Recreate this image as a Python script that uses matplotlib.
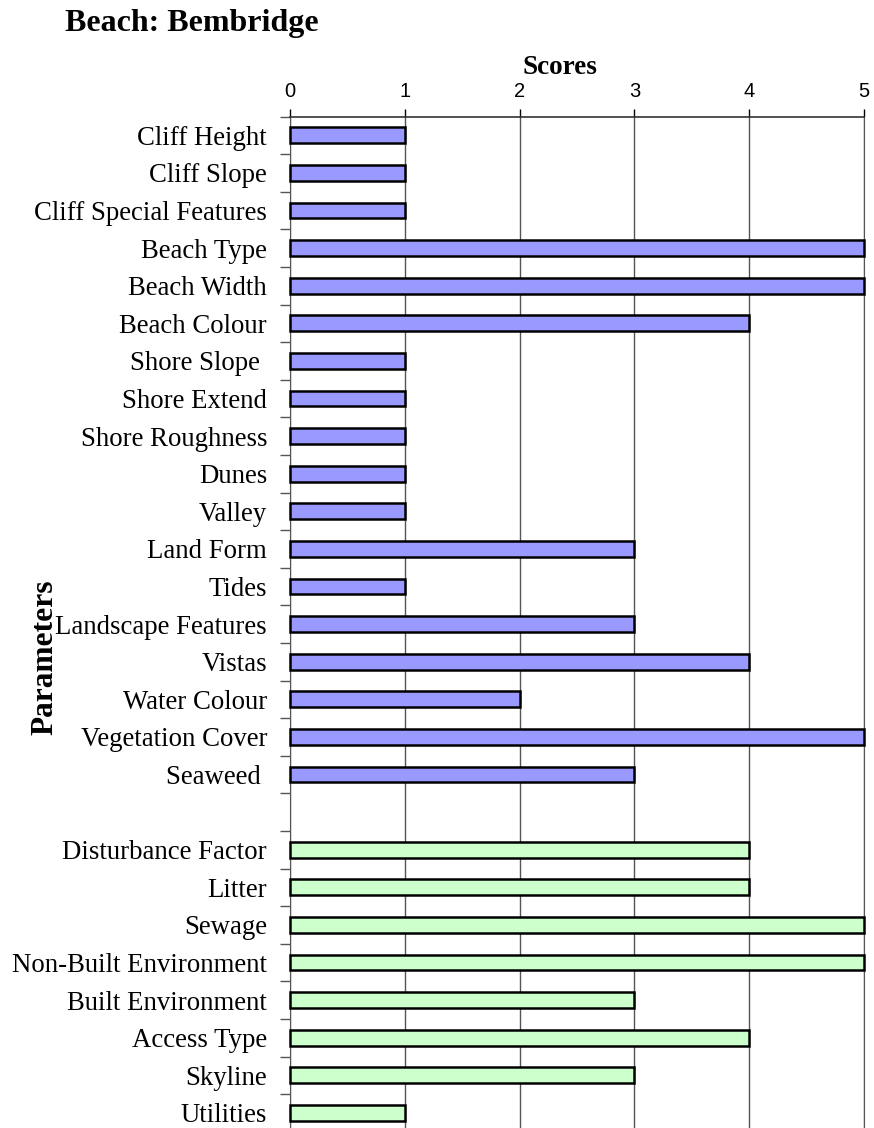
import numpy as np
import matplotlib.pyplot as plt
from matplotlib.ticker import FixedLocator

# physical parameters (upper block) and human parameters (lower block)
physical = ['Cliff Height', 'Cliff Slope', 'Cliff Special Features', 'Beach Type',
            'Beach Width', 'Beach Colour', 'Shore Slope ', 'Shore Extend',
            'Shore Roughness', 'Dunes', 'Valley', 'Land Form', 'Tides',
            'Landscape Features', 'Vistas', 'Water Colour', 'Vegetation Cover',
            'Seaweed ']
physical_scores = [1, 1, 1, 5, 5, 4, 1, 1, 1, 1, 1, 3, 1, 3, 4, 2, 5, 3]

human = ['Disturbance Factor', 'Litter', 'Sewage', 'Non-Built Environment',
         'Built Environment', 'Access Type', 'Skyline', 'Utilities']
human_scores = [4, 4, 5, 5, 3, 4, 3, 1]

serif = 'Liberation Serif'
sans = 'Liberation Sans'

labels = physical + [''] + human
n = len(labels)
y_phys = np.arange(len(physical))
y_human = np.arange(len(physical) + 1, n)

fig = plt.figure(figsize=(8.74, 11.28), dpi=100)
row_h = 37.6 / 1128
ax = fig.add_axes([290 / 874, 1 - 116.5 / 1128 - n * row_h, 574 / 874, n * row_h])

bh = 0.42
ax.barh(y_phys, physical_scores, height=bh, color='#9999FF', edgecolor='black',
        linewidth=1.8, zorder=3, clip_on=False)
ax.barh(y_human, human_scores, height=bh, color='#CCFFCC', edgecolor='black',
        linewidth=1.8, zorder=3, clip_on=False)

ax.set_xlim(0, 5)
ax.set_ylim(n - 0.5, -0.5)

ax.xaxis.tick_top()
ax.set_xticks(range(6))
ax.tick_params(axis='x', direction='out', length=6, width=1, pad=5,
               labelsize=14.5, colors='black')
for t in ax.get_xticklabels():
    t.set_family(sans)
ax.grid(axis='x', color='#555555', linewidth=1, zorder=1)

ax.set_yticks(np.arange(n))
ax.set_yticklabels(labels, family=serif, fontsize=19.3)
ax.tick_params(axis='y', which='major', length=0, pad=16.5)
ax.yaxis.set_minor_locator(FixedLocator(np.arange(n + 1) - 0.5))
ax.tick_params(axis='y', which='minor', direction='out', length=7, width=1,
               color='#555555')

ax.spines['bottom'].set_visible(False)
ax.spines['right'].set_color('#555555')
ax.spines['left'].set_color('#555555')
ax.spines['top'].set_color('#333333')
ax.spines['top'].set_linewidth(1.2)

fig.text(560 / 874, 1 - 68 / 1128, 'Scores', family=serif, fontsize=19.5,
         fontweight='bold', ha='center', va='center')
fig.text(65 / 874, 1 - 24 / 1128, 'Beach: Bembridge', family=serif, fontsize=23,
         fontweight='bold', ha='left', va='center')
fig.text(45 / 874, 1 - 657 / 1128, 'Parameters', family=serif, fontsize=22.6,
         fontweight='bold', rotation=90, ha='center', va='center')

fig.savefig('out.png', dpi=100)
